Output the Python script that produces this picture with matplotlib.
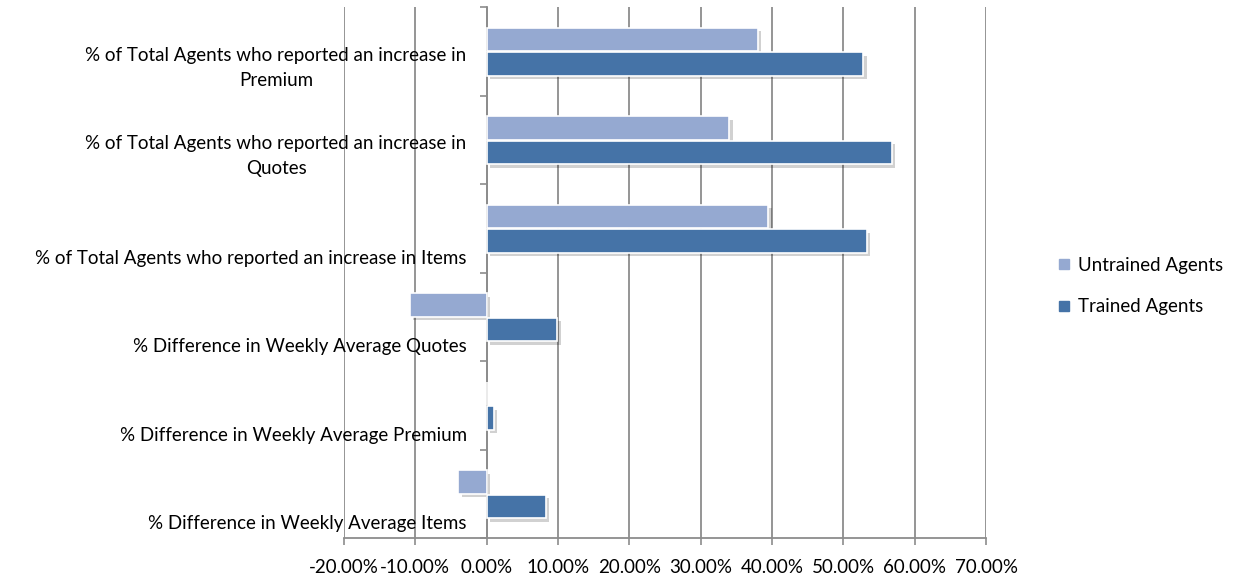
import matplotlib
matplotlib.use("Agg")
import matplotlib.pyplot as plt
import matplotlib.patheffects as pe
from matplotlib.lines import Line2D
import numpy as np

# ---------- data ----------
categories = [
    "% Difference in Weekly Average Items",
    "% Difference in Weekly Average Premium",
    "% Difference in Weekly Average Quotes",
    "% of Total Agents who reported an increase in Items",
    "% of Total Agents who reported an increase in\nQuotes",
    "% of Total Agents who reported an increase in\nPremium",
]
untrained = [-4.0, 0.0, -10.8, 39.5, 34.0, 38.0]
trained = [8.3, 1.0, 9.9, 53.3, 56.8, 52.8]
x_ticks = [-20, -10, 0, 10, 20, 30, 40, 50, 60, 70]

C_UNTRAINED = "#95a9d1"
C_TRAINED = "#4573a7"
GRID = "#8c8c8c"
FS = 13.5

plt.rcParams["font.family"] = ["Lato", "DejaVu Sans"]

fig = plt.figure(figsize=(12.33, 5.76), dpi=100)
ax = fig.add_axes([344 / 1233, 1 - 538 / 576, (986 - 344) / 1233, (538 - 7) / 576])

y = np.arange(len(categories))
h = 0.265
shadow = [pe.SimplePatchShadow(offset=(2.5, -2.5), shadow_rgbFace="k", alpha=0.18), pe.Normal()]

ax.barh(y + 0.135, untrained, height=h, color=C_UNTRAINED, edgecolor="white",
        linewidth=1.2, path_effects=shadow, zorder=3)
ax.barh(y - 0.145, trained, height=h, color=C_TRAINED, edgecolor="white",
        linewidth=1.2, path_effects=shadow, zorder=3)

ax.set_xlim(-20, 70)
ax.set_ylim(-0.5, len(categories) - 0.5)

# vertical gridlines
ax.set_xticks(x_ticks)
ax.set_xticklabels([f"{v:.2f}%" for v in x_ticks], fontsize=FS, color="black")
ax.xaxis.grid(True, color=GRID, linewidth=1.3, zorder=0)
ax.set_axisbelow(True)
ax.tick_params(axis="x", length=5, color=GRID, width=1.2, pad=10)

# category axis at zero with boundary ticks
ax.set_yticks(np.arange(-0.5, len(categories), 1.0))
ax.set_yticklabels([])
ax.tick_params(axis="y", length=5, color=GRID, width=1.2, direction="out")
ax.spines["left"].set_position(("data", 0))
ax.spines["left"].set_color(GRID)
ax.spines["left"].set_linewidth(1.3)
ax.spines["bottom"].set_color(GRID)
ax.spines["bottom"].set_linewidth(1.3)
ax.spines["top"].set_visible(False)
ax.spines["right"].set_visible(False)

# category labels, right-aligned left of the zero axis
for i, lab in enumerate(categories):
    n = lab.count("\n") + 1
    dy_px = 30 - (n - 1) * 13.5
    ax.annotate(lab, xy=(0, i), xycoords="data",
                xytext=(-14.4, -dy_px * 0.72), textcoords="offset points",
                ha="right", va="center", multialignment="center",
                linespacing=1.6, fontsize=FS, color="black", zorder=4)

# legend
handles = [
    Line2D([], [], marker="s", linestyle="none", color=C_UNTRAINED, markersize=7),
    Line2D([], [], marker="s", linestyle="none", color=C_TRAINED, markersize=7),
]
fig.legend(handles, ["Untrained Agents", "Trained Agents"],
           loc="center left", bbox_to_anchor=(1040 / 1233, 1 - 286 / 576),
           frameon=False, fontsize=FS, handlelength=0.8, handletextpad=0.3,
           labelspacing=1.3)

fig.savefig("out.png", dpi=100)
